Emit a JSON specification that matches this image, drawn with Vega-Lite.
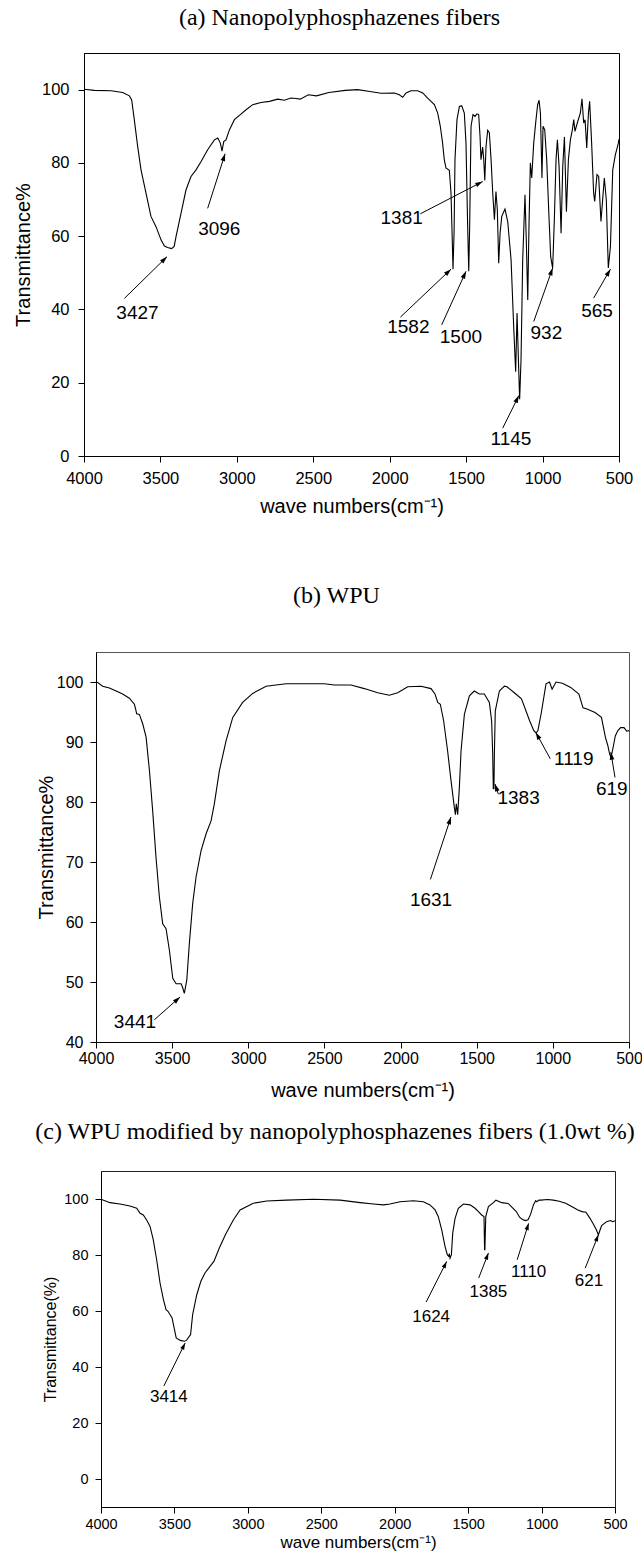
{
  "$schema": "https://vega.github.io/schema/vega-lite/v6.json",
  "padding": {"left": 0, "top": 5, "right": 0, "bottom": 0},
  "config": {
    "font": "Liberation Sans",
    "view": {"stroke": "black"},
    "axis": {"grid": false, "domainColor": "black", "tickColor": "black", "labelColor": "black", "titleColor": "black", "titleFontWeight": "normal", "labelFont": "Liberation Sans", "titleFont": "Liberation Sans", "labelFlush": false, "labelOverlap": false, "domainWidth": 1, "tickWidth": 1},
    "title": {"font": "Liberation Serif", "fontSize": 24, "fontWeight": "normal", "color": "black"}
  },
  "datasets": {
    "specA": [
      {"wn":4000,"t":100.1},{"wn":3932,"t":99.8},{"wn":3823,"t":99.7},{"wn":3747,"t":99.2},{"wn":3703,"t":98.3},{"wn":3688,"t":97.2},{"wn":3671,"t":91.8},{"wn":3649,"t":84.5},{"wn":3627,"t":78.1},{"wn":3594,"t":71.7},{"wn":3562,"t":65.4},{"wn":3529,"t":62.6},{"wn":3496,"t":59.0},{"wn":3474,"t":57.3},{"wn":3453,"t":56.9},{"wn":3427,"t":56.6},{"wn":3410,"t":57.2},{"wn":3398,"t":59.9},{"wn":3365,"t":66.3},{"wn":3333,"t":72.6},{"wn":3300,"t":76.3},{"wn":3267,"t":78.1},{"wn":3234,"t":80.4},{"wn":3191,"t":83.6},{"wn":3147,"t":86.3},{"wn":3125,"t":86.8},{"wn":3108,"t":85.4},{"wn":3097,"t":83.2},{"wn":3086,"t":85.8},{"wn":3071,"t":86.3},{"wn":3049,"t":89.0},{"wn":3016,"t":91.8},{"wn":2973,"t":93.3},{"wn":2940,"t":94.5},{"wn":2896,"t":95.9},{"wn":2842,"t":96.5},{"wn":2787,"t":96.8},{"wn":2733,"t":97.4},{"wn":2689,"t":97.1},{"wn":2646,"t":97.7},{"wn":2613,"t":97.6},{"wn":2586,"t":97.4},{"wn":2532,"t":98.6},{"wn":2479,"t":98.3},{"wn":2398,"t":99.2},{"wn":2291,"t":99.8},{"wn":2210,"t":100.0},{"wn":2130,"t":99.5},{"wn":2057,"t":99.0},{"wn":1970,"t":99.1},{"wn":1937,"t":98.6},{"wn":1915,"t":97.9},{"wn":1893,"t":99.1},{"wn":1861,"t":99.7},{"wn":1817,"t":99.7},{"wn":1784,"t":99.1},{"wn":1752,"t":97.7},{"wn":1730,"t":96.8},{"wn":1708,"t":95.9},{"wn":1686,"t":93.6},{"wn":1669,"t":90.0},{"wn":1654,"t":85.4},{"wn":1643,"t":80.9},{"wn":1632,"t":78.6},{"wn":1610,"t":78.0},{"wn":1599,"t":71.8},{"wn":1592,"t":60.8},{"wn":1586,"t":51.0},{"wn":1579,"t":60.8},{"wn":1573,"t":80.9},{"wn":1560,"t":91.8},{"wn":1544,"t":95.4},{"wn":1529,"t":95.6},{"wn":1512,"t":93.6},{"wn":1501,"t":85.4},{"wn":1490,"t":62.6},{"wn":1483,"t":50.4},{"wn":1477,"t":62.6},{"wn":1468,"t":90.0},{"wn":1455,"t":93.2},{"wn":1442,"t":92.7},{"wn":1429,"t":93.4},{"wn":1418,"t":93.2},{"wn":1409,"t":87.2},{"wn":1403,"t":80.9},{"wn":1392,"t":84.3},{"wn":1385,"t":81.0},{"wn":1378,"t":75.2},{"wn":1370,"t":84.5},{"wn":1359,"t":88.9},{"wn":1348,"t":88.2},{"wn":1337,"t":80.9},{"wn":1326,"t":71.8},{"wn":1315,"t":64.5},{"wn":1305,"t":72.2},{"wn":1296,"t":67.2},{"wn":1287,"t":52.6},{"wn":1278,"t":60.8},{"wn":1267,"t":65.4},{"wn":1246,"t":67.4},{"wn":1228,"t":64.0},{"wn":1206,"t":53.5},{"wn":1189,"t":35.3},{"wn":1176,"t":23.0},{"wn":1167,"t":39.0},{"wn":1158,"t":26.2},{"wn":1150,"t":15.5},{"wn":1141,"t":26.2},{"wn":1130,"t":53.5},{"wn":1115,"t":71.3},{"wn":1106,"t":58.1},{"wn":1097,"t":42.6},{"wn":1089,"t":62.6},{"wn":1080,"t":80.0},{"wn":1071,"t":75.9},{"wn":1058,"t":85.4},{"wn":1043,"t":91.8},{"wn":1032,"t":95.9},{"wn":1023,"t":97.1},{"wn":1014,"t":93.6},{"wn":1004,"t":75.9},{"wn":997,"t":90.0},{"wn":986,"t":89.1},{"wn":973,"t":80.9},{"wn":960,"t":67.2},{"wn":947,"t":54.4},{"wn":934,"t":51.3},{"wn":923,"t":64.5},{"wn":912,"t":80.9},{"wn":903,"t":86.3},{"wn":892,"t":79.0},{"wn":879,"t":60.8},{"wn":868,"t":79.0},{"wn":857,"t":87.1},{"wn":844,"t":66.7},{"wn":831,"t":80.9},{"wn":818,"t":86.3},{"wn":805,"t":89.1},{"wn":796,"t":91.8},{"wn":788,"t":88.6},{"wn":770,"t":91.3},{"wn":753,"t":93.6},{"wn":742,"t":97.5},{"wn":731,"t":90.9},{"wn":722,"t":91.8},{"wn":711,"t":84.1},{"wn":700,"t":93.6},{"wn":692,"t":96.8},{"wn":679,"t":85.4},{"wn":666,"t":71.8},{"wn":659,"t":69.5},{"wn":644,"t":76.8},{"wn":633,"t":76.3},{"wn":618,"t":64.0},{"wn":607,"t":69.9},{"wn":596,"t":75.9},{"wn":583,"t":69.9},{"wn":570,"t":51.3},{"wn":556,"t":57.2},{"wn":541,"t":78.1},{"wn":524,"t":82.2},{"wn":504,"t":85.4},{"wn":500,"t":86.5}
    ],
    "specB": [
      {"wn":4000,"t":100.1},{"wn":3956,"t":99.3},{"wn":3912,"t":99.0},{"wn":3868,"t":98.5},{"wn":3825,"t":98.0},{"wn":3781,"t":97.3},{"wn":3748,"t":96.3},{"wn":3740,"t":95.5},{"wn":3733,"t":94.7},{"wn":3715,"t":94.6},{"wn":3693,"t":93.0},{"wn":3671,"t":90.8},{"wn":3649,"t":85.2},{"wn":3628,"t":78.6},{"wn":3606,"t":70.8},{"wn":3584,"t":64.2},{"wn":3562,"t":59.7},{"wn":3540,"t":58.9},{"wn":3518,"t":55.3},{"wn":3496,"t":50.6},{"wn":3474,"t":49.7},{"wn":3441,"t":49.7},{"wn":3430,"t":49.0},{"wn":3420,"t":48.1},{"wn":3404,"t":50.3},{"wn":3387,"t":56.4},{"wn":3365,"t":63.1},{"wn":3343,"t":67.5},{"wn":3310,"t":71.9},{"wn":3277,"t":74.7},{"wn":3244,"t":76.9},{"wn":3223,"t":79.7},{"wn":3190,"t":85.2},{"wn":3146,"t":90.2},{"wn":3102,"t":94.1},{"wn":3037,"t":96.6},{"wn":2971,"t":98.1},{"wn":2883,"t":99.3},{"wn":2818,"t":99.5},{"wn":2752,"t":99.7},{"wn":2610,"t":99.7},{"wn":2500,"t":99.7},{"wn":2435,"t":99.5},{"wn":2325,"t":99.5},{"wn":2238,"t":98.9},{"wn":2150,"t":98.2},{"wn":2074,"t":97.8},{"wn":2019,"t":98.2},{"wn":1953,"t":99.2},{"wn":1866,"t":99.3},{"wn":1800,"t":98.9},{"wn":1774,"t":98.0},{"wn":1756,"t":96.6},{"wn":1739,"t":96.3},{"wn":1717,"t":93.5},{"wn":1691,"t":88.5},{"wn":1669,"t":83.6},{"wn":1647,"t":79.1},{"wn":1640,"t":77.9},{"wn":1634,"t":79.7},{"wn":1625,"t":77.9},{"wn":1614,"t":82.4},{"wn":1603,"t":88.5},{"wn":1581,"t":94.6},{"wn":1548,"t":97.7},{"wn":1516,"t":98.5},{"wn":1483,"t":98.0},{"wn":1450,"t":98.0},{"wn":1417,"t":96.6},{"wn":1402,"t":93.5},{"wn":1395,"t":88.0},{"wn":1391,"t":82.2},{"wn":1387,"t":82.2},{"wn":1384,"t":88.0},{"wn":1378,"t":95.2},{"wn":1351,"t":98.5},{"wn":1318,"t":99.3},{"wn":1301,"t":99.2},{"wn":1253,"t":98.2},{"wn":1206,"t":97.2},{"wn":1152,"t":93.5},{"wn":1125,"t":91.9},{"wn":1110,"t":91.5},{"wn":1098,"t":91.9},{"wn":1075,"t":95.0},{"wn":1045,"t":99.7},{"wn":1022,"t":100.0},{"wn":1005,"t":98.8},{"wn":979,"t":100.0},{"wn":937,"t":99.8},{"wn":883,"t":99.1},{"wn":829,"t":98.0},{"wn":802,"t":95.7},{"wn":776,"t":95.5},{"wn":723,"t":94.9},{"wn":681,"t":94.1},{"wn":654,"t":90.7},{"wn":640,"t":89.5},{"wn":627,"t":88.0},{"wn":618,"t":87.4},{"wn":605,"t":89.0},{"wn":590,"t":91.0},{"wn":573,"t":91.9},{"wn":555,"t":92.4},{"wn":533,"t":92.4},{"wn":515,"t":91.8},{"wn":500,"t":91.9}
    ],
    "specC": [
      {"wn":4000,"t":99.9},{"wn":3939,"t":98.7},{"wn":3871,"t":98.2},{"wn":3803,"t":97.5},{"wn":3757,"t":96.7},{"wn":3734,"t":94.9},{"wn":3712,"t":94.3},{"wn":3689,"t":92.5},{"wn":3666,"t":90.2},{"wn":3644,"t":85.4},{"wn":3621,"t":78.3},{"wn":3598,"t":70.0},{"wn":3575,"t":64.1},{"wn":3557,"t":60.5},{"wn":3544,"t":59.9},{"wn":3516,"t":57.5},{"wn":3488,"t":50.4},{"wn":3460,"t":49.5},{"wn":3432,"t":49.2},{"wn":3418,"t":49.5},{"wn":3390,"t":51.6},{"wn":3376,"t":58.7},{"wn":3348,"t":65.8},{"wn":3320,"t":70.6},{"wn":3293,"t":73.5},{"wn":3250,"t":76.5},{"wn":3231,"t":77.7},{"wn":3195,"t":82.4},{"wn":3153,"t":87.2},{"wn":3099,"t":92.5},{"wn":3053,"t":96.1},{"wn":2963,"t":98.5},{"wn":2872,"t":99.3},{"wn":2736,"t":99.6},{"wn":2554,"t":99.9},{"wn":2372,"t":99.6},{"wn":2236,"t":98.7},{"wn":2145,"t":98.2},{"wn":2077,"t":97.9},{"wn":2032,"t":98.2},{"wn":1964,"t":99.0},{"wn":1873,"t":99.4},{"wn":1805,"t":99.0},{"wn":1760,"t":97.9},{"wn":1725,"t":96.1},{"wn":1703,"t":93.7},{"wn":1680,"t":89.0},{"wn":1657,"t":83.0},{"wn":1642,"t":80.1},{"wn":1632,"t":79.5},{"wn":1628,"t":80.5},{"wn":1623,"t":78.9},{"wn":1614,"t":80.1},{"wn":1605,"t":87.8},{"wn":1589,"t":93.1},{"wn":1567,"t":96.7},{"wn":1532,"t":98.2},{"wn":1487,"t":97.9},{"wn":1453,"t":96.7},{"wn":1430,"t":95.5},{"wn":1408,"t":94.3},{"wn":1392,"t":93.7},{"wn":1388,"t":81.9},{"wn":1386,"t":81.9},{"wn":1380,"t":93.7},{"wn":1362,"t":97.3},{"wn":1328,"t":98.7},{"wn":1311,"t":99.6},{"wn":1271,"t":98.7},{"wn":1227,"t":98.4},{"wn":1172,"t":95.5},{"wn":1150,"t":93.5},{"wn":1130,"t":92.7},{"wn":1110,"t":92.3},{"wn":1092,"t":92.6},{"wn":1075,"t":94.5},{"wn":1055,"t":98.0},{"wn":1040,"t":99.4},{"wn":1032,"t":99.0},{"wn":1018,"t":99.6},{"wn":1004,"t":99.6},{"wn":960,"t":99.8},{"wn":920,"t":99.6},{"wn":880,"t":99.2},{"wn":836,"t":98.5},{"wn":795,"t":97.3},{"wn":753,"t":96.1},{"wn":725,"t":95.5},{"wn":698,"t":95.3},{"wn":669,"t":93.0},{"wn":645,"t":90.8},{"wn":627,"t":89.0},{"wn":613,"t":87.2},{"wn":600,"t":89.2},{"wn":591,"t":90.5},{"wn":557,"t":91.9},{"wn":530,"t":92.3},{"wn":516,"t":91.9},{"wn":500,"t":92.2}
    ],
    "annA": [
      {"label":"3427","lx":3650,"ly":39.1,"sx":3736,"sy":43.0,"tx":3457,"ty":54.4,"dir":45.7},
      {"label":"3096","lx":3115,"ly":61.9,"sx":3191,"sy":67.6,"tx":3077,"ty":82.5,"dir":17.7},
      {"label":"1381","lx":1922,"ly":64.9,"sx":1800,"sy":66.1,"tx":1392,"ty":74.9,"dir":62.7},
      {"label":"1582","lx":1878,"ly":35.3,"sx":1930,"sy":37.9,"tx":1599,"ty":51.0,"dir":46.6},
      {"label":"1500","lx":1534,"ly":32.6,"sx":1660,"sy":35.8,"tx":1501,"ty":50.4,"dir":24.5},
      {"label":"932","lx":975,"ly":33.5,"sx":1058,"sy":36.7,"tx":934,"ty":51.3,"dir":19.6},
      {"label":"565","lx":644,"ly":39.7,"sx":666,"sy":43.1,"tx":556,"ty":51.0,"dir":30.2},
      {"label":"1145","lx":1207,"ly":4.6,"sx":1261,"sy":7.6,"tx":1155,"ty":16.5,"dir":26.4}
    ],
    "annB": [
      {"label":"3441","lx":3744,"ly":43.3,"sx":3617,"sy":43.7,"tx":3448,"ty":47.5,"dir":48.3},
      {"label":"1631","lx":1800,"ly":63.6,"sx":1804,"sy":67.1,"tx":1669,"ty":77.5,"dir":18.2},
      {"label":"1383","lx":1225,"ly":80.6,"sx":1358,"sy":81.3,"tx":1380,"ty":83.0,"dir":-18.4},
      {"label":"1119","lx":863,"ly":87.2,"sx":1017,"sy":87.2,"tx":1112,"ty":91.6,"dir":-28.4},
      {"label":"619","lx":613,"ly":82.2,"sx":592,"sy":84.1,"tx":619,"ty":88.3,"dir":-9.2}
    ],
    "annC": [
      {"label":"3414","lx":3538,"ly":29.3,"sx":3572,"sy":33.2,"tx":3427,"ty":48.6,"dir":26.2},
      {"label":"1624","lx":1752,"ly":57.8,"sx":1786,"sy":63.2,"tx":1646,"ty":77.7,"dir":26.8},
      {"label":"1385","lx":1362,"ly":66.8,"sx":1428,"sy":71.8,"tx":1362,"ty":80.7,"dir":21.2},
      {"label":"1110","lx":1088,"ly":73.9,"sx":1166,"sy":78.3,"tx":1088,"ty":91.3,"dir":17.5},
      {"label":"621","lx":677,"ly":70.6,"sx":703,"sy":75.3,"tx":613,"ty":87.2,"dir":21.6}
    ]
  },
  "spacing": 66,
  "vconcat": [
    {
      "hconcat": [
        {"width": 12, "height": 10, "data": {"values": []}, "mark": "point", "view": {"stroke": null}},
        {
          "width": 535, "height": 403,
          "title": {"text": "(a) Nanopolyphosphazenes fibers", "offset": 23, "dx": -12},
          "view": {"stroke": "black"},
          "layer": [
            {"data": {"name": "specA"}, "mark": {"type": "line", "color": "black", "strokeWidth": 1.1},
             "encoding": {
               "x": {"field": "wn", "type": "quantitative", "scale": {"domain": [500, 4000], "reverse": true, "nice": false, "zero": false},
                     "axis": {"title": "wave numbers(cm⁻¹)", "values": [4000,3750,3500,3250,3000,2750,2500,2250,2000,1750,1500,1250,1000,750,500], "format": "d", "labelOverlap": false, "labelExpr": "datum.value % 500 === 0 ? datum.label : ''", "tickSize": {"condition": {"test": "datum.value % 500 === 0", "value": 6}, "value": 3}, "labelFontSize": 16.5, "titleFontSize": 20, "labelPadding": 8, "titlePadding": 10}},
               "y": {"field": "t", "type": "quantitative", "scale": {"domain": [0, 110], "nice": false, "zero": false},
                     "axis": {"title": "Transmittance%", "values": [0,10,20,30,40,50,60,70,80,90,100,110], "labelOverlap": false, "labelExpr": "datum.value % 20 === 0 && datum.value <= 100 ? datum.label : ''", "tickSize": {"condition": {"test": "datum.value % 20 === 0", "value": 6}, "value": 3}, "labelFontSize": 16.5, "titleFontSize": 20, "labelPadding": 9, "titlePadding": 8}}
             }},
            {"data": {"name": "annA"}, "mark": {"type": "rule", "color": "black", "strokeWidth": 1},
             "encoding": {
               "x": {"field": "sx", "type": "quantitative", "scale": {"domain": [500, 4000], "reverse": true, "nice": false, "zero": false}},
               "y": {"field": "sy", "type": "quantitative", "scale": {"domain": [0, 110], "nice": false, "zero": false}},
               "x2": {"field": "tx"}, "y2": {"field": "ty"}
             }},
            {"data": {"name": "annA"}, "mark": {"type": "point", "shape": "M0,0L-0.32,1L0.32,1Z", "filled": true, "size": 220, "color": "black", "opacity": 1, "strokeWidth": 0},
             "encoding": {
               "x": {"field": "tx", "type": "quantitative", "scale": {"domain": [500, 4000], "reverse": true, "nice": false, "zero": false}},
               "y": {"field": "ty", "type": "quantitative", "scale": {"domain": [0, 110], "nice": false, "zero": false}},
               "angle": {"field": "dir", "type": "quantitative", "scale": null}
             }},
            {"data": {"name": "annA"}, "mark": {"type": "text", "fontSize": 19, "font": "Liberation Sans", "align": "center", "baseline": "middle", "color": "black"},
             "encoding": {
               "x": {"field": "lx", "type": "quantitative", "scale": {"domain": [500, 4000], "reverse": true, "nice": false, "zero": false}},
               "y": {"field": "ly", "type": "quantitative", "scale": {"domain": [0, 110], "nice": false, "zero": false}},
               "text": {"field": "label"}
             }}
          ]
        }
      ],
      "spacing": 0, "align": "none"
    },
    {
      "spacing": 18,
      "vconcat": [
        {
          "hconcat": [
            {"width": 35, "height": 10, "data": {"values": []}, "mark": "point", "view": {"stroke": null}},
            {
              "width": 533, "height": 390,
              "title": {"text": "(b) WPU", "offset": 44, "dx": -26},
              "view": {"stroke": "#555"},
              "layer": [
                {"data": {"name": "specB"}, "mark": {"type": "line", "color": "black", "strokeWidth": 1.1},
                 "encoding": {
                   "x": {"field": "wn", "type": "quantitative", "scale": {"domain": [500, 4000], "reverse": true, "nice": false, "zero": false},
                         "axis": {"title": "wave numbers(cm⁻¹)", "values": [4000,3750,3500,3250,3000,2750,2500,2250,2000,1750,1500,1250,1000,750,500], "format": "d", "labelOverlap": false, "labelExpr": "datum.value % 500 === 0 ? datum.label : ''", "tickSize": {"condition": {"test": "datum.value % 500 === 0", "value": 6}, "value": 3}, "labelFontSize": 16, "titleFontSize": 20, "labelPadding": 2, "titlePadding": 14}},
                   "y": {"field": "t", "type": "quantitative", "scale": {"domain": [40, 105], "nice": false, "zero": false},
                         "axis": {"title": "Transmittance%", "values": [40,45,50,55,60,65,70,75,80,85,90,95,100,105], "labelOverlap": false, "labelExpr": "datum.value % 10 === 0 && datum.value <= 100 ? datum.label : ''", "tickSize": {"condition": {"test": "datum.value % 10 === 0", "value": 6}, "value": 3}, "labelFontSize": 16, "titleFontSize": 20, "labelPadding": 7, "titlePadding": 0}}
                 }},
                {"data": {"name": "annB"}, "mark": {"type": "rule", "color": "black", "strokeWidth": 1},
                 "encoding": {
                   "x": {"field": "sx", "type": "quantitative", "scale": {"domain": [500, 4000], "reverse": true, "nice": false, "zero": false}},
                   "y": {"field": "sy", "type": "quantitative", "scale": {"domain": [40, 105], "nice": false, "zero": false}},
                   "x2": {"field": "tx"}, "y2": {"field": "ty"}
                 }},
                {"data": {"name": "annB"}, "mark": {"type": "point", "shape": "M0,0L-0.32,1L0.32,1Z", "filled": true, "size": 220, "color": "black", "opacity": 1, "strokeWidth": 0},
                 "encoding": {
                   "x": {"field": "tx", "type": "quantitative", "scale": {"domain": [500, 4000], "reverse": true, "nice": false, "zero": false}},
                   "y": {"field": "ty", "type": "quantitative", "scale": {"domain": [40, 105], "nice": false, "zero": false}},
                   "angle": {"field": "dir", "type": "quantitative", "scale": null}
                 }},
                {"data": {"name": "annB"}, "mark": {"type": "text", "fontSize": 19, "font": "Liberation Sans", "align": "center", "baseline": "middle", "color": "black"},
                 "encoding": {
                   "x": {"field": "lx", "type": "quantitative", "scale": {"domain": [500, 4000], "reverse": true, "nice": false, "zero": false}},
                   "y": {"field": "ly", "type": "quantitative", "scale": {"domain": [40, 105], "nice": false, "zero": false}},
                   "text": {"field": "label"}
                 }}
              ]
            }
          ],
          "spacing": 0, "align": "none"
        },
        {
          "hconcat": [
            {"width": 34, "height": 10, "data": {"values": []}, "mark": "point", "view": {"stroke": null}},
            {
              "width": 514, "height": 336,
              "title": {"text": "(c) WPU modified by nanopolyphosphazenes fibers (1.0wt %)", "offset": 27, "dx": -23},
              "view": {"stroke": "#222"},
              "layer": [
                {"data": {"name": "specC"}, "mark": {"type": "line", "color": "black", "strokeWidth": 1.1},
                 "encoding": {
                   "x": {"field": "wn", "type": "quantitative", "scale": {"domain": [500, 4000], "reverse": true, "nice": false, "zero": false},
                         "axis": {"title": "wave numbers(cm⁻¹)", "values": [4000,3750,3500,3250,3000,2750,2500,2250,2000,1750,1500,1250,1000,750,500], "format": "d", "labelOverlap": false, "labelExpr": "datum.value % 500 === 0 ? datum.label : ''", "tickSize": {"condition": {"test": "datum.value % 500 === 0", "value": 6}, "value": 3}, "labelFontSize": 14.5, "titleFontSize": 17, "labelPadding": 4, "titlePadding": 4}},
                   "y": {"field": "t", "type": "quantitative", "scale": {"domain": [-10, 110], "nice": false, "zero": false},
                         "axis": {"title": "Transmittance(%)", "values": [0,20,40,60,80,100], "format": "d", "labelOverlap": false, "tickSize": 6, "labelFontSize": 14.5, "titleFontSize": 16, "labelPadding": 7, "titlePadding": 5}}
                 }},
                {"data": {"name": "annC"}, "mark": {"type": "rule", "color": "black", "strokeWidth": 1},
                 "encoding": {
                   "x": {"field": "sx", "type": "quantitative", "scale": {"domain": [500, 4000], "reverse": true, "nice": false, "zero": false}},
                   "y": {"field": "sy", "type": "quantitative", "scale": {"domain": [-10, 110], "nice": false, "zero": false}},
                   "x2": {"field": "tx"}, "y2": {"field": "ty"}
                 }},
                {"data": {"name": "annC"}, "mark": {"type": "point", "shape": "M0,0L-0.32,1L0.32,1Z", "filled": true, "size": 180, "color": "black", "opacity": 1, "strokeWidth": 0},
                 "encoding": {
                   "x": {"field": "tx", "type": "quantitative", "scale": {"domain": [500, 4000], "reverse": true, "nice": false, "zero": false}},
                   "y": {"field": "ty", "type": "quantitative", "scale": {"domain": [-10, 110], "nice": false, "zero": false}},
                   "angle": {"field": "dir", "type": "quantitative", "scale": null}
                 }},
                {"data": {"name": "annC"}, "mark": {"type": "text", "fontSize": 17, "font": "Liberation Sans", "align": "center", "baseline": "middle", "color": "black"},
                 "encoding": {
                   "x": {"field": "lx", "type": "quantitative", "scale": {"domain": [500, 4000], "reverse": true, "nice": false, "zero": false}},
                   "y": {"field": "ly", "type": "quantitative", "scale": {"domain": [-10, 110], "nice": false, "zero": false}},
                   "text": {"field": "label"}
                 }}
              ]
            }
          ],
          "spacing": 0, "align": "none"
        }
      ]
    }
  ]
}
